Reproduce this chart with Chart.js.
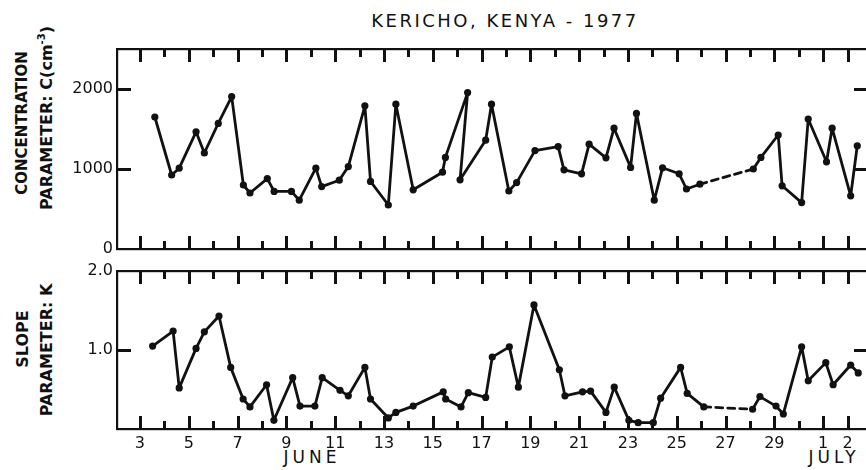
<!DOCTYPE html>
<html>
<head>
<meta charset="utf-8">
<script src="https://cdn.jsdelivr.net/npm/chart.js@4/dist/chart.umd.min.js"></script>
<style>
  html, body { margin: 0; padding: 0; background: #fff; }
  body { width: 866px; height: 470px; overflow: hidden; position: relative; font-family: "DejaVu Sans", sans-serif; color: #111; }
  canvas { position: absolute; left: 0; }
  .lbl { position: absolute; white-space: nowrap; transform: translate(-50%, -50%); }
  .rot { transform: translate(-50%, -50%) rotate(-90deg); font-weight: bold; font-size: 16px; }
  sup { font-size: 10px; }
</style>
</head>
<body>
<div class="lbl" style="left:505px; top:20px; font-size:18px; letter-spacing:2.5px;">KERICHO, KENYA - 1977</div>
<div class="lbl rot" style="left:22px; top:123px; font-size:15px;">CONCENTRATION</div>
<div class="lbl rot" style="left:46px; top:118px;">PARAMETER: C(cm<sup>-3</sup>)</div>
<div class="lbl rot" style="left:22px; top:339px;">SLOPE</div>
<div class="lbl rot" style="left:46px; top:350px;">PARAMETER: K</div>
<div class="lbl" style="left:312px; top:457px; font-size:17px; letter-spacing:4px;">JUNE</div>
<div class="lbl" style="left:834px; top:457px; font-size:17px; letter-spacing:4px;">JULY</div>

<canvas id="conc" width="880" height="260" style="top:0"></canvas>
<canvas id="slope" width="880" height="210" style="top:260px"></canvas>

<script>
// days counted from 1 June (1 July = 31)
const cDays = [3.61, 4.30, 4.61, 5.30, 5.64, 6.21, 6.76, 7.24, 7.51, 8.22,
  8.50, 9.21, 9.53, 10.21, 10.45, 11.17, 11.54, 12.22, 12.45, 13.18,
  13.49, 14.20, 15.40, 15.52, 16.43, 16.12, 17.17, 17.41, 18.12, 18.44,
  19.19, 20.14, 20.38, 21.10, 21.41, 22.10, 22.43, 23.11, 23.35, 24.08,
  24.42, 25.10, 25.40, 25.95, 28.14, 28.45, 29.16, 29.32, 30.12, 30.39,
  31.14, 31.37, 32.13, 32.40];
const cVals = [1650, 925, 1010, 1465, 1200, 1570, 1905, 800, 700, 880,
  720, 720, 610, 1010, 780, 860, 1030, 1790, 845, 550,
  1810, 740, 960, 1145, 1955, 865, 1360, 1810, 725, 830,
  1230, 1280, 990, 940, 1310, 1140, 1510, 1020, 1695, 610,
  1015, 940, 750, 810, 1000, 1145, 1425, 790, 580, 1625,
  1090, 1510, 665, 1290];

const kDays = [3.52, 4.36, 4.61, 5.30, 5.64, 6.24, 6.72, 7.23, 7.51, 8.19,
  8.49, 9.26, 9.56, 10.17, 10.47, 11.20, 11.54, 12.22, 12.45, 13.18,
  13.49, 14.20, 15.43, 15.53, 16.16, 16.46, 17.17, 17.44, 18.14, 18.51,
  19.15, 20.19, 20.42, 21.14, 21.47, 22.10, 22.44, 23.04, 23.42, 24.04,
  24.34, 25.16, 25.43, 26.11, 28.11, 28.41, 29.07, 29.37, 30.12, 30.39,
  31.11, 31.41, 32.13, 32.44];
const kVals = [1.05, 1.24, 0.52, 1.02, 1.23, 1.43, 0.78, 0.38, 0.28, 0.56,
  0.11, 0.65, 0.29, 0.29, 0.65, 0.49, 0.42, 0.78, 0.38, 0.14,
  0.21, 0.29, 0.47, 0.38, 0.28, 0.46, 0.40, 0.91, 1.04, 0.53,
  1.57, 0.75, 0.42, 0.47, 0.48, 0.21, 0.53, 0.11, 0.08, 0.08,
  0.39, 0.78, 0.45, 0.28, 0.25, 0.41, 0.29, 0.19, 1.04, 0.61,
  0.84, 0.56, 0.81, 0.71];

const tickDays = [3, 5, 7, 9, 11, 13, 15, 17, 19, 21, 23, 25, 27, 29, 31, 32];
const tickLabels = ['3', '5', '7', '9', '11', '13', '15', '17', '19', '21', '23', '25', '27', '29', '1', '2'];

const cTicks = [0, 1000, 2000];
const cTickLabels = ['0', '1000', '2000'];
const kTicks = [1, 2];
const kTickLabels = ['1.0', '2.0'];

const INK = '#111';
const X_MIN = 2.06, X_MAX = 32.84;

// frame with inward ticks, placed through the chart's own scales
function makeFrame(yTicks, yLabels, xLabels) {
  return {
    id: 'frame',
    afterDraw(chart) {
      const ctx = chart.ctx;
      const a = chart.chartArea;
      const x = chart.scales.x, y = chart.scales.y;
      ctx.save();
      ctx.fillStyle = INK;
      ctx.fillRect(a.left - 1, a.top - 1, a.right - a.left + 2, 2.2);
      ctx.fillRect(a.left - 1, a.bottom - 1, a.right - a.left + 2, 2.2);
      ctx.fillRect(a.left - 1, a.top - 1, 2.2, a.bottom - a.top + 2);
      ctx.fillRect(a.right - 1, a.top - 1, 2.2, a.bottom - a.top + 2);

      for (let d = 3; d <= 32; d++) {
        const px = Math.round(x.getPixelForValue(d));
        const len = (d % 2 === 1 || d === 32) ? 13 : 8;
        ctx.fillRect(px - 1, a.top, 3, len);
        ctx.fillRect(px - 1, a.bottom - len, 3, len);
      }
      yTicks.forEach(v => {
        if (v === 0 || v === 2) return;
        const py = Math.round(y.getPixelForValue(v));
        ctx.fillRect(a.left, py - 1, 14, 3);
        ctx.fillRect(a.right - 14, py - 1, 14, 3);
      });

      ctx.font = '16px "DejaVu Sans"';
      ctx.textAlign = 'right';
      ctx.textBaseline = 'middle';
      yTicks.forEach((v, i) => {
        ctx.fillText(yLabels[i], a.left - 4, y.getPixelForValue(v));
      });
      if (xLabels) {
        ctx.textAlign = 'center';
        tickDays.forEach((d, i) => {
          ctx.fillText(tickLabels[i], x.getPixelForValue(d), a.bottom + 15);
        });
      }
      ctx.restore();
    }
  };
}

function makeChart(id, days, vals, yMax, pad, framePlugin) {
  return new Chart(document.getElementById(id), {
    type: 'line',
    data: {
      datasets: [{
        data: days.map((d, i) => ({ x: d, y: vals[i] })),
        borderColor: INK,
        backgroundColor: INK,
        borderWidth: 2.8,
        borderJoinStyle: 'round',
        borderCapStyle: 'round',
        pointRadius: 3.6,
        pointBorderWidth: 0,
        pointBackgroundColor: INK,
        tension: 0,
        segment: {
          borderDash: ctx => (ctx.p1.parsed.x - ctx.p0.parsed.x > 1.5 ? [7, 5] : undefined)
        }
      }]
    },
    options: {
      responsive: false,
      animation: false,
      layout: { padding: pad },
      plugins: { legend: { display: false }, tooltip: { enabled: false } },
      scales: {
        x: { type: 'linear', min: X_MIN, max: X_MAX, display: false },
        y: { min: 0, max: yMax, display: false }
      }
    },
    plugins: [framePlugin]
  });
}

makeChart('conc', cDays, cVals, 2500,
  { left: 117, top: 49, right: 12, bottom: 11 },
  makeFrame(cTicks, cTickLabels, false));

makeChart('slope', kDays, kVals, 2,
  { left: 117, top: 11, right: 12, bottom: 41 },
  makeFrame(kTicks, kTickLabels, true));
</script>
</body>
</html>
